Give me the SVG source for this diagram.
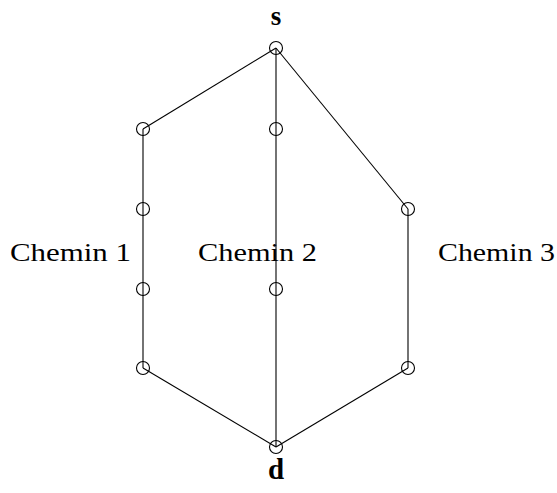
<svg xmlns="http://www.w3.org/2000/svg" width="557" height="493" viewBox="0 0 557 493">
<style>
.n{fill:none;stroke:#000;stroke-width:1.1}
.e{stroke:#000;stroke-width:1.1;fill:none}
.t{font-family:"Liberation Serif",serif;font-size:26px;fill:#000}
.b{font-family:"Liberation Serif",serif;font-size:29px;font-weight:bold;fill:#000;text-anchor:middle}
</style>
<rect width="557" height="493" fill="#fff"/>
<g id="connectors">
<line class="e" x1="276" y1="48" x2="143" y2="129"/>
<line class="e" x1="143" y1="129" x2="143" y2="368"/>
<line class="e" x1="143" y1="368" x2="276" y2="447"/>
<line class="e" x1="276" y1="48" x2="276" y2="447"/>
<line class="e" x1="276" y1="48" x2="408" y2="209"/>
<line class="e" x1="408" y1="209" x2="408" y2="368"/>
<line class="e" x1="408" y1="368" x2="276" y2="447"/>
</g>
<g id="s"><circle class="n" cx="276" cy="48" r="6.5"/><text class="b" x="276" y="25" style="font-size:27px">s</text></g>
<g id="d"><circle class="n" cx="276" cy="447" r="6.5"/><text class="b" x="276" y="479">d</text></g>
<g id="l1"><circle class="n" cx="143" cy="129" r="6.5"/></g>
<g id="l2"><circle class="n" cx="143" cy="209" r="6.5"/></g>
<g id="l3"><circle class="n" cx="143" cy="289" r="6.5"/></g>
<g id="l4"><circle class="n" cx="143" cy="368" r="6.5"/></g>
<g id="m1"><circle class="n" cx="276" cy="129" r="6.5"/></g>
<g id="m2"><circle class="n" cx="276" cy="289" r="6.5"/></g>
<g id="r1"><circle class="n" cx="408" cy="209" r="6.5"/></g>
<g id="r2"><circle class="n" cx="408" cy="368" r="6.5"/></g>
<g id="labels">
<text class="t" x="10" y="261" textLength="121" lengthAdjust="spacingAndGlyphs">Chemin 1</text>
<text class="t" x="198" y="261" textLength="119" lengthAdjust="spacingAndGlyphs">Chemin 2</text>
<text class="t" x="438" y="261" textLength="117" lengthAdjust="spacingAndGlyphs">Chemin 3</text>
</g>
</svg>
